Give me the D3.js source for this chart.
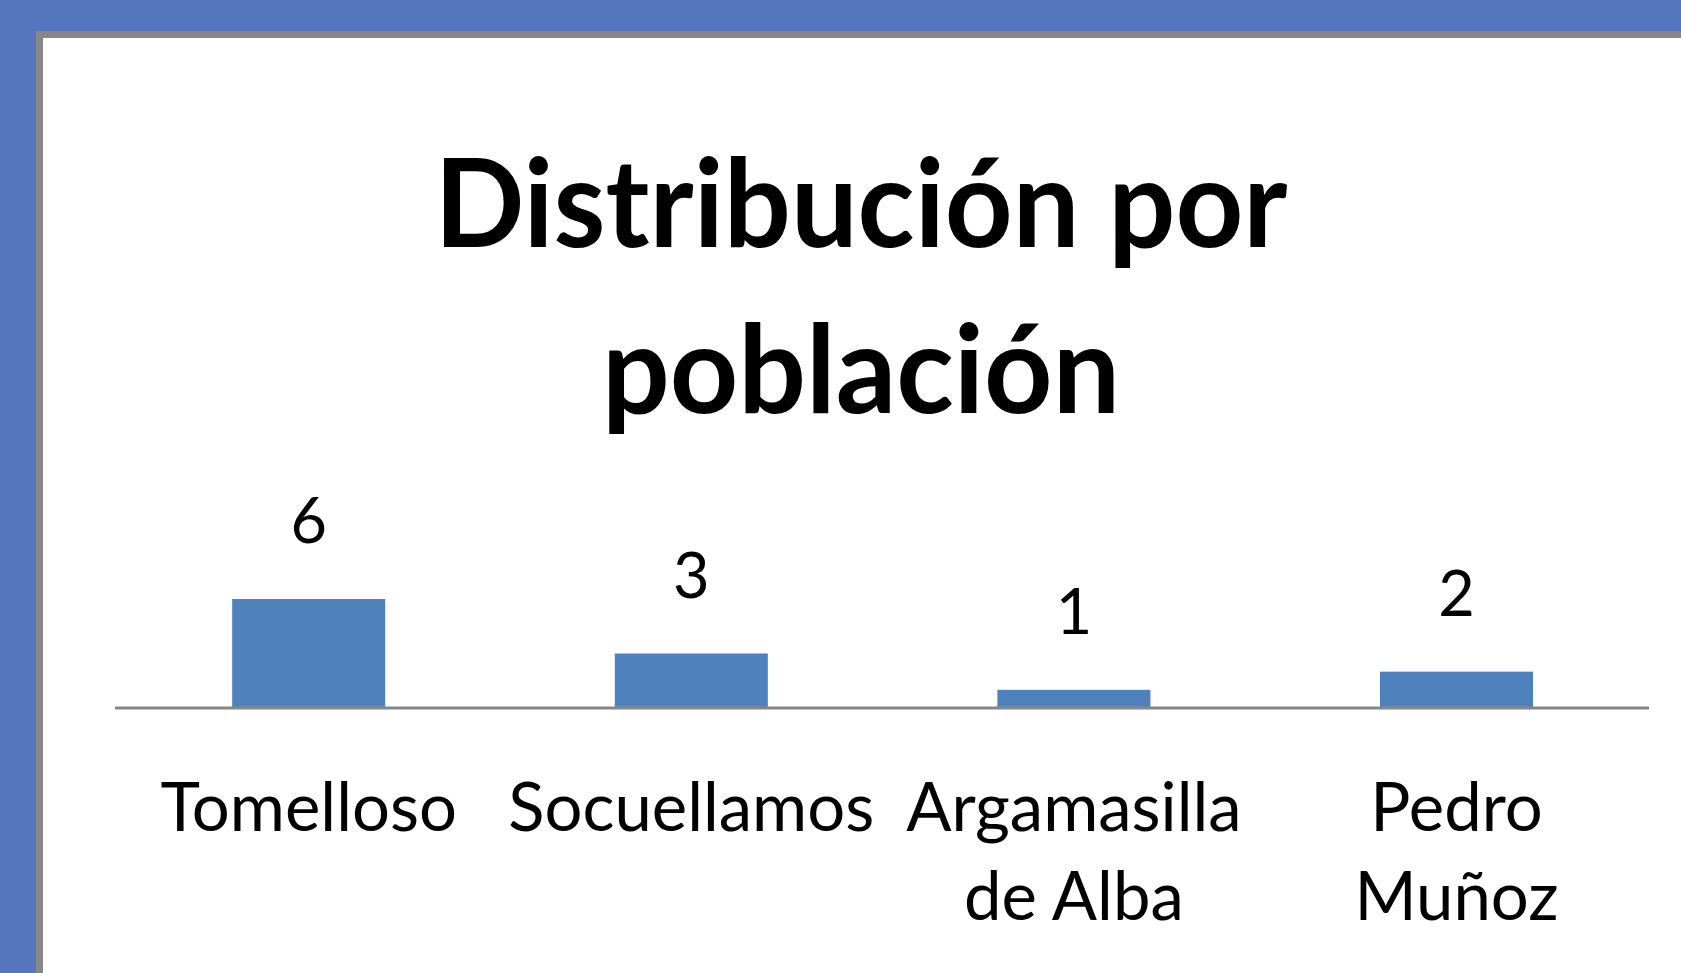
<!DOCTYPE html>
<html>
<head>
<meta charset="utf-8">
<script src="https://cdn.jsdelivr.net/npm/d3@7"></script>
<style>
    body { margin: 0; background: #5576bc; overflow: hidden; }
    svg text { font-family: Lato, "Open Sans", sans-serif; fill: #000; }
</style>
</head>
<body>
<div id="chart"></div>
<script>
var titleLines = ["Distribución por", "población"];
var categories = ["Tomelloso", "Socuellamos", "Argamasilla\nde Alba", "Pedro\nMuñoz"];
var values = [6, 3, 1, 2];

var width = 1681;
var height = 973;
var axisY = 708;

var svg = d3.select('#chart').append('svg')
    .attr('width', width)
    .attr('height', height);

// background + chart area with grey frame
svg.append('rect')
    .attr('width', width).attr('height', height)
    .attr('fill', '#5576bc');

svg.append('rect')
    .attr('x', 39.5).attr('y', 34.5)
    .attr('width', width).attr('height', height)
    .attr('fill', '#fff')
    .attr('stroke', '#878787')
    .attr('stroke-width', 7);

// title
var titleWidths = [853, 518];
svg.selectAll('.title')
    .data(titleLines)
    .enter().append('text')
    .attr('class', 'title')
    .attr('x', 861)
    .attr('y', function (d, i) { return 247 + i * 166; })
    .attr('text-anchor', 'middle')
    .attr('font-size', 123)
    .attr('font-weight', 'bold')
    .attr('textLength', function (d, i) { return titleWidths[i]; })
    .attr('lengthAdjust', 'spacingAndGlyphs')
    .text(function (d) { return d; });

var x = d3.scaleBand()
    .domain(categories)
    .range([117.4, 1647.8])
    .paddingInner(0.6)
    .paddingOuter(0.3);

var y = d3.scaleLinear()
    .domain([0, d3.max(values)])
    .range([axisY, axisY - 109]);

var data = categories.map(function (c, i) { return { cat: c, value: values[i] }; });

svg.selectAll('.bar')
    .data(data)
    .enter().append('rect')
    .attr('class', 'bar')
    .attr('x', function (d) { return x(d.cat); })
    .attr('y', function (d) { return y(d.value); })
    .attr('width', x.bandwidth())
    .attr('height', function (d) { return axisY - y(d.value); })
    .attr('fill', '#4f81bd');

svg.append('line')
    .attr('x1', 115).attr('x2', 1649)
    .attr('y1', axisY).attr('y2', axisY)
    .attr('stroke', '#868686')
    .attr('stroke-width', 3);

// value labels
svg.selectAll('.value')
    .data(data)
    .enter().append('text')
    .attr('class', 'value')
    .attr('x', function (d) { return x(d.cat) + x.bandwidth() / 2; })
    .attr('y', function (d) { return y(d.value) - 56; })
    .attr('text-anchor', 'middle')
    .attr('font-size', 63)
    .text(function (d) { return d.value; });

// category labels
var catLabels = svg.selectAll('.cat')
    .data(data)
    .enter().append('text')
    .attr('class', 'cat')
    .attr('text-anchor', 'middle')
    .attr('font-size', 67);

catLabels.selectAll('tspan')
    .data(function (d) {
        return d.cat.split('\n').map(function (line) {
            return { line: line, cx: x(d.cat) + x.bandwidth() / 2 };
        });
    })
    .enter().append('tspan')
    .attr('x', function (d) { return d.cx; })
    .attr('y', function (d, i) { return 831 + i * 89; })
    .text(function (d) { return d.line; });
</script>
</body>
</html>
